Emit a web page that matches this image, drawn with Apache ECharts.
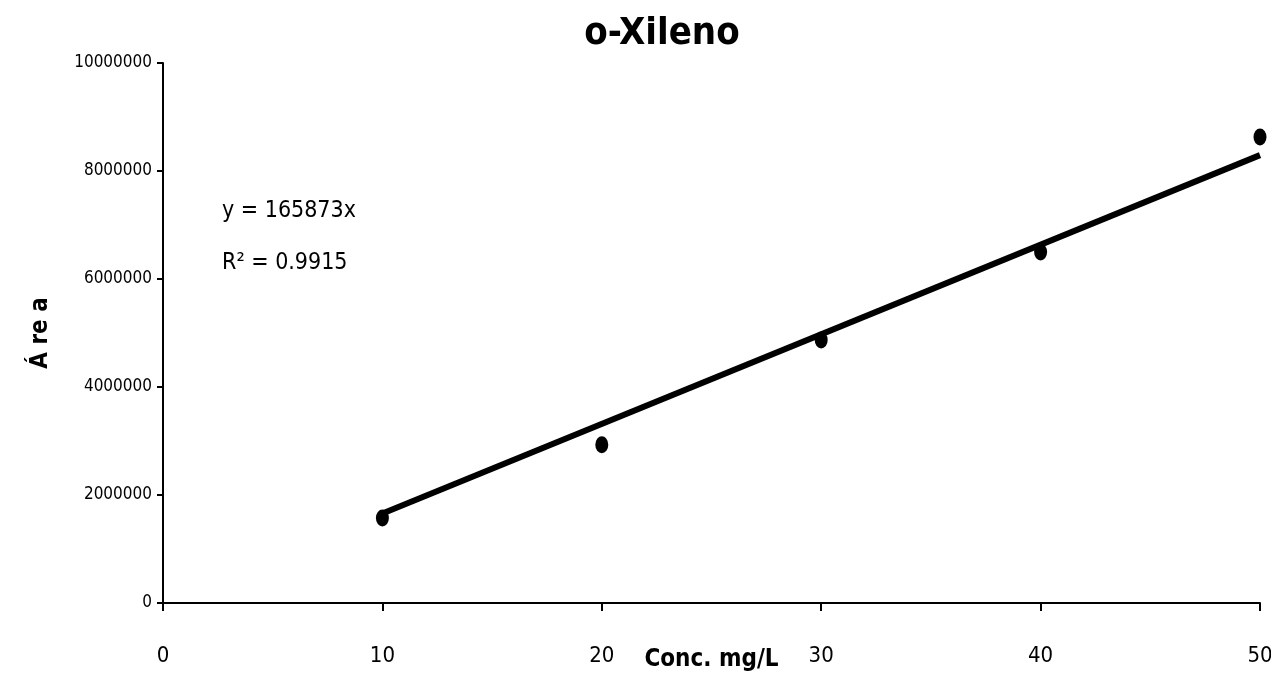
<!DOCTYPE html>
<html><head><meta charset="utf-8">
<script src="https://cdn.jsdelivr.net/npm/echarts@6/dist/echarts.min.js"></script>
<style>html,body{margin:0;padding:0;background:#fff}#c{width:1271px;height:677px}</style>
</head><body><div id="c"></div>
<script>
var titleText = 'o-Xileno';
var xName = 'Conc. mg/L';
var yName = 'Á re a';
var conc = [10, 20, 30, 40, 50];
var area = [1575000, 2930000, 4870000, 6500000, 8630000];
var slope = 165873;
var r2 = 0.9915;
var trendX = [10, 50];
var xTicks = [0, 10, 20, 30, 40, 50];
var yTicks = [0, 2000000, 4000000, 6000000, 8000000, 10000000];

var FONT = '"Liberation Sans Narrow", "DejaVu Sans Condensed", "Arial Narrow", sans-serif';
var chart = echarts.init(document.getElementById('c'));
chart.setOption({
  animation: false,
  backgroundColor: '#fff',
  title: {text: titleText, left: 657, top: 10, textAlign: 'center',
    textStyle: {fontFamily: FONT, fontSize: 38, fontWeight: 'bold', color: '#000'}},
  grid: {left: 163, right: 11, top: 63, bottom: 74, containLabel: false, outerBoundsMode: 'none'},
  xAxis: {type: 'value', min: 0, max: 50, interval: 10,
    name: xName, nameLocation: 'middle', nameGap: 57, nameMoveOverlap: false,
    nameTextStyle: {fontFamily: FONT, fontSize: 24, fontWeight: 'bold', color: '#000', verticalAlign: 'middle'},
    axisLine: {show: true, onZero: false, lineStyle: {color: '#000', width: 2}},
    axisTick: {show: true, inside: false, length: 8, lineStyle: {color: '#000', width: 2}},
    axisLabel: {margin: 42, fontFamily: FONT, fontSize: 22, color: '#000',
      formatter: function (v) { return xTicks.indexOf(v) >= 0 ? String(v) : ''; }},
    splitLine: {show: false}},
  yAxis: {type: 'value', min: 0, max: 10000000, interval: 2000000,
    name: yName, nameLocation: 'middle', nameGap: 110, nameRotate: 90, nameMoveOverlap: false,
    nameTextStyle: {fontFamily: FONT, fontSize: 24, fontWeight: 'bold', color: '#000'},
    axisLine: {show: true, lineStyle: {color: '#000', width: 2}},
    axisTick: {show: true, inside: false, length: 6, lineStyle: {color: '#000', width: 2}},
    axisLabel: {margin: 11, fontFamily: FONT, fontSize: 17, color: '#000',
      formatter: function (v) { return yTicks.indexOf(v) >= 0 ? String(v) : ''; }},
    splitLine: {show: false}},
  graphic: [
    {type: 'text', left: 222, top: 200, style: {text: 'y = ' + slope + 'x', font: '23px ' + FONT, fill: '#000'}},
    {type: 'text', left: 222, top: 252, style: {text: 'R² = ' + r2, font: '23px ' + FONT, fill: '#000'}}
  ],
  series: [
    {type: 'line', data: trendX.map(function (x) { return [x, slope * x]; }),
      showSymbol: false, symbol: 'none', lineStyle: {color: '#000', width: 6}, z: 2},
    {type: 'scatter', data: conc.map(function (x, i) { return [x, area[i]]; }),
      symbol: 'circle', symbolSize: [13, 17], itemStyle: {color: '#000', opacity: 1}, z: 3}
  ]
});
</script></body></html>
